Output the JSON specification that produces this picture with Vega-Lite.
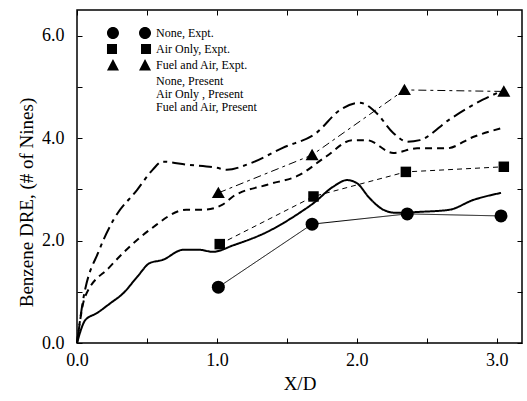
{
  "$schema": "https://vega.github.io/schema/vega-lite/v6.json",
  "width": 445,
  "height": 333,
  "autosize": {"type": "none"},
  "padding": {"left": 77, "top": 10, "right": 5, "bottom": 58},
  "background": "white",
  "config": {
    "view": {"stroke": "black", "strokeWidth": 1.5},
    "font": "Liberation Serif",
    "axis": {
      "domain": false,
      "tickSize": -5,
      "tickColor": "black",
      "tickWidth": 1,
      "labelFont": "Liberation Serif",
      "labelFontSize": 18,
      "labelColor": "black",
      "titleFont": "Liberation Serif",
      "titleFontSize": 19,
      "titleFontWeight": "normal",
      "titleColor": "black",
      "grid": false
    }
  },
  "datasets": {
    "curves": [
      {"series": "None, Present", "x": 0, "y": 0},
      {"series": "None, Present", "x": 0.06, "y": 0.45},
      {"series": "None, Present", "x": 0.14, "y": 0.58},
      {"series": "None, Present", "x": 0.24, "y": 0.78},
      {"series": "None, Present", "x": 0.33, "y": 0.97},
      {"series": "None, Present", "x": 0.43, "y": 1.29},
      {"series": "None, Present", "x": 0.52, "y": 1.56},
      {"series": "None, Present", "x": 0.61, "y": 1.62},
      {"series": "None, Present", "x": 0.76, "y": 1.82},
      {"series": "None, Present", "x": 0.87, "y": 1.82},
      {"series": "None, Present", "x": 0.97, "y": 1.78},
      {"series": "None, Present", "x": 1.12, "y": 1.91},
      {"series": "None, Present", "x": 1.36, "y": 2.17},
      {"series": "None, Present", "x": 1.59, "y": 2.54},
      {"series": "None, Present", "x": 1.69, "y": 2.73},
      {"series": "None, Present", "x": 1.83, "y": 3.05},
      {"series": "None, Present", "x": 1.93, "y": 3.18},
      {"series": "None, Present", "x": 2.0, "y": 3.12},
      {"series": "None, Present", "x": 2.09, "y": 2.83},
      {"series": "None, Present", "x": 2.19, "y": 2.6},
      {"series": "None, Present", "x": 2.28, "y": 2.54},
      {"series": "None, Present", "x": 2.45, "y": 2.56},
      {"series": "None, Present", "x": 2.66, "y": 2.6},
      {"series": "None, Present", "x": 2.83, "y": 2.79},
      {"series": "None, Present", "x": 3.03, "y": 2.93},
      {"series": "Air Only , Present", "x": 0, "y": 0},
      {"series": "Air Only , Present", "x": 0.057, "y": 0.9},
      {"series": "Air Only , Present", "x": 0.236, "y": 1.49},
      {"series": "Air Only , Present", "x": 0.52, "y": 2.21},
      {"series": "Air Only , Present", "x": 0.78, "y": 2.6},
      {"series": "Air Only , Present", "x": 0.9, "y": 2.6},
      {"series": "Air Only , Present", "x": 1.04, "y": 2.7},
      {"series": "Air Only , Present", "x": 1.11, "y": 2.85},
      {"series": "Air Only , Present", "x": 1.36, "y": 3.09},
      {"series": "Air Only , Present", "x": 1.59, "y": 3.28},
      {"series": "Air Only , Present", "x": 1.78, "y": 3.64},
      {"series": "Air Only , Present", "x": 1.97, "y": 3.96},
      {"series": "Air Only , Present", "x": 2.07, "y": 3.96},
      {"series": "Air Only , Present", "x": 2.26, "y": 3.71},
      {"series": "Air Only , Present", "x": 2.43, "y": 3.8},
      {"series": "Air Only , Present", "x": 2.64, "y": 3.8},
      {"series": "Air Only , Present", "x": 2.83, "y": 4.02},
      {"series": "Air Only , Present", "x": 3.04, "y": 4.2},
      {"series": "Fuel and Air, Present", "x": 0, "y": 0},
      {"series": "Fuel and Air, Present", "x": 0.04, "y": 0.78},
      {"series": "Fuel and Air, Present", "x": 0.16, "y": 1.82},
      {"series": "Fuel and Air, Present", "x": 0.26, "y": 2.4},
      {"series": "Fuel and Air, Present", "x": 0.43, "y": 2.99},
      {"series": "Fuel and Air, Present", "x": 0.54, "y": 3.38},
      {"series": "Fuel and Air, Present", "x": 0.61, "y": 3.54},
      {"series": "Fuel and Air, Present", "x": 0.79, "y": 3.48},
      {"series": "Fuel and Air, Present", "x": 1.0, "y": 3.42},
      {"series": "Fuel and Air, Present", "x": 1.07, "y": 3.38},
      {"series": "Fuel and Air, Present", "x": 1.24, "y": 3.51},
      {"series": "Fuel and Air, Present", "x": 1.47, "y": 3.81},
      {"series": "Fuel and Air, Present", "x": 1.71, "y": 4.1},
      {"series": "Fuel and Air, Present", "x": 1.88, "y": 4.55},
      {"series": "Fuel and Air, Present", "x": 2.02, "y": 4.69},
      {"series": "Fuel and Air, Present", "x": 2.14, "y": 4.49},
      {"series": "Fuel and Air, Present", "x": 2.26, "y": 4.1},
      {"series": "Fuel and Air, Present", "x": 2.36, "y": 3.93},
      {"series": "Fuel and Air, Present", "x": 2.45, "y": 3.96},
      {"series": "Fuel and Air, Present", "x": 2.66, "y": 4.36},
      {"series": "Fuel and Air, Present", "x": 2.9, "y": 4.75},
      {"series": "Fuel and Air, Present", "x": 3.02, "y": 4.9}
    ],
    "expt": [
      {"series": "None, Expt.", "x": 1.01, "y": 1.09},
      {"series": "None, Expt.", "x": 1.68, "y": 2.32},
      {"series": "None, Expt.", "x": 2.36, "y": 2.52},
      {"series": "None, Expt.", "x": 3.03, "y": 2.48},
      {"series": "Air Only, Expt.", "x": 1.02, "y": 1.93},
      {"series": "Air Only, Expt.", "x": 1.69, "y": 2.86},
      {"series": "Air Only, Expt.", "x": 2.35, "y": 3.34},
      {"series": "Air Only, Expt.", "x": 3.05, "y": 3.44},
      {"series": "Fuel and Air, Expt.", "x": 1.01, "y": 2.93},
      {"series": "Fuel and Air, Expt.", "x": 1.68, "y": 3.67},
      {"series": "Fuel and Air, Expt.", "x": 2.34, "y": 4.94},
      {"series": "Fuel and Air, Expt.", "x": 3.05, "y": 4.91}
    ]
  },
  "layer": [
    {
      "data": {"name": "curves"},
      "mark": {"type": "line", "interpolate": "monotone", "strokeWidth": 2, "color": "black"},
      "encoding": {
        "x": {"field": "x", "type": "quantitative", "scale": {"domain": [0, 3.18], "nice": false, "zero": false},
              "axis": {"orient": "bottom", "title": "X/D", "values": [0, 0.5, 1, 1.5, 2, 2.5, 3],
                       "labelExpr": "datum.value % 1 === 0 ? format(datum.value, '.1f') : ''",
                       "labelPadding": 13, "titlePadding": 5, "labelFlush": false}},
        "y": {"field": "y", "type": "quantitative", "scale": {"domain": [0, 6.5], "nice": false},
              "axis": {"orient": "left", "title": "Benzene DRE, (# of Nines)", "values": [0, 1, 2, 3, 4, 5, 6],
                       "labelExpr": "datum.value % 2 === 0 ? format(datum.value, '.1f') : ''",
                       "labelPadding": 18, "titlePadding": 5, "titleY": 192}},
        "strokeDash": {"field": "series", "type": "nominal",
          "scale": {"domain": ["None, Present", "Air Only , Present", "Fuel and Air, Present", "None, Expt.", "Air Only, Expt.", "Fuel and Air, Expt."],
                    "range": [[1, 0], [7, 5], [13, 5, 4, 5], [1, 0], [5, 4], [8, 4, 3, 4]]},
          "legend": null}
      }
    },
    {
      "data": {"name": "expt"},
      "mark": {"type": "line", "strokeWidth": 1, "color": "black"},
      "encoding": {
        "x": {"field": "x", "type": "quantitative",
              "axis": {"orient": "top", "title": null, "labels": false, "values": [0, 0.5, 1, 1.5, 2, 2.5, 3]}},
        "y": {"field": "y", "type": "quantitative",
              "axis": {"orient": "right", "title": null, "labels": false, "values": [0, 1, 2, 3, 4, 5, 6]}},
        "strokeDash": {"field": "series", "type": "nominal", "legend": null}
      }
    },
    {
      "data": {"name": "expt"},
      "transform": [{"filter": "datum.series === 'None, Expt.'"}],
      "mark": {"type": "point", "shape": "circle", "filled": true, "color": "black", "size": 169, "opacity": 1},
      "encoding": {
        "x": {"field": "x", "type": "quantitative", "axis": null},
        "y": {"field": "y", "type": "quantitative", "axis": null}
      }
    },
    {
      "data": {"name": "expt"},
      "transform": [{"filter": "datum.series === 'Air Only, Expt.'"}],
      "mark": {"type": "point", "shape": "square", "filled": true, "color": "black", "size": 110, "opacity": 1},
      "encoding": {
        "x": {"field": "x", "type": "quantitative", "axis": null},
        "y": {"field": "y", "type": "quantitative", "axis": null}
      }
    },
    {
      "data": {"name": "expt"},
      "transform": [{"filter": "datum.series === 'Fuel and Air, Expt.'"}],
      "mark": {"type": "point", "shape": "M-1,0.8L0,-0.95L1,0.8Z", "filled": true, "color": "black", "size": 169, "opacity": 1},
      "encoding": {
        "x": {"field": "x", "type": "quantitative", "axis": null},
        "y": {"field": "y", "type": "quantitative", "axis": null}
      }
    },
    {
      "data": {"name": "expt"},
      "mark": {"type": "point", "filled": true, "fill": "black", "stroke": "black", "size": 0, "opacity": 1, "strokeWidth": 1.5},
      "encoding": {
        "x": {"field": "x", "type": "quantitative", "axis": null},
        "y": {"field": "y", "type": "quantitative", "axis": null},
        "shape": {"field": "series", "type": "nominal",
          "scale": {"domain": ["None, Expt.", "Air Only, Expt.", "Fuel and Air, Expt.", "None, Present", "Air Only , Present", "Fuel and Air, Present"],
                    "range": [
                      "M-3.67,0a1,1 0 1,0 2,0a1,1 0 1,0 -2,0Z M-1.67,0H1.67 M1.67,0a1,1 0 1,0 2,0a1,1 0 1,0 -2,0Z",
                      "M-3.67,-0.83h1.67v1.67h-1.67Z M-0.8,0H0.3 M2,-0.83h1.67v1.67h-1.67Z",
                      "M-3.67,0.9L-2.67,-1L-1.67,0.9Z M-1.5,0H-0.6 M0,0H0.7 M1.67,0.9L2.67,-1L3.67,0.9Z",
                      "M-3.3,0H3.3",
                      "M-3.3,0H-1.5M-0.8,0H0.8M1.5,0H3.3",
                      "M-3.3,0H-0.6M0.2,0H1.1M1.9,0H2.8"
                    ]},
          "legend": {
            "title": null, "orient": "none", "legendX": 45, "legendY": 16, "padding": 0,
            "labelFont": "Liberation Serif", "labelFontSize": 12, "labelColor": "black",
            "symbolSize": 144, "rowPadding": -8, "labelOffset": 20,
            "symbolOpacity": 1, "symbolStrokeWidth": 1.5,
            "symbolFillColor": "black", "symbolStrokeColor": "black",
            "encode": {
              "symbols": {
                "stroke": {"value": "black"},
                "strokeWidth": {"value": 1.5}
              }
            }
          }
        }
      }
    }
  ],
  "resolve": {"axis": {"x": "independent", "y": "independent"}}
}
